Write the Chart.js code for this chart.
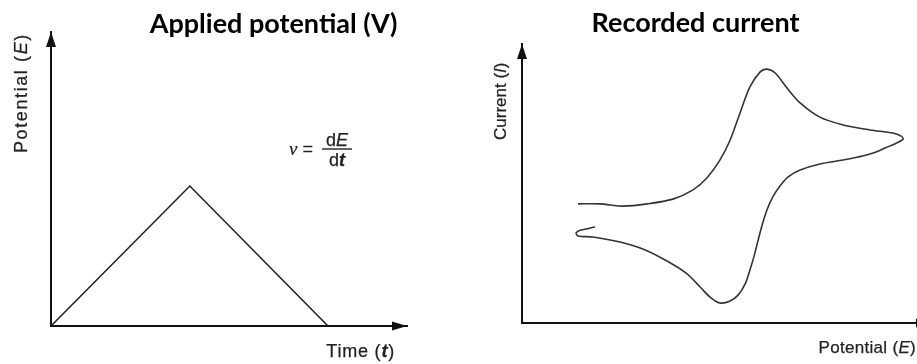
<!DOCTYPE html>
<html>
<head>
<meta charset="utf-8">
<script src="https://cdn.jsdelivr.net/npm/chart.js@4.4.1/dist/chart.umd.min.js"></script>
<style>
  html, body { margin: 0; padding: 0; background: #fff; }
  #wrap { position: relative; width: 917px; height: 364px; overflow: hidden; }
  .box { position: absolute; top: 0; height: 364px; }
</style>
</head>
<body>
<div id="wrap">
  <div class="box" style="left:0;width:460px"><canvas id="applied"></canvas></div>
  <div class="box" style="left:460px;width:457px"><canvas id="recorded"></canvas></div>
</div>
<script>
// left: triangular potential sweep (arbitrary units 0-10)
const sweepTime = [0, 3.9, 7.78];
const sweepPotential = [0, 4.76, 0];

// right: cyclic voltammogram (arbitrary units 0-100), forward scan then reverse
const forwardE = [14.2, 19.8, 25.6, 31.7, 38.2, 43.3, 46.8, 50.1, 52.7, 55.2, 57.7, 60.3, 62.0, 64.1, 67.1, 70.4, 75.4, 81.3, 88.1, 93.9, 96.0, 96.5];
const forwardI = [42.7, 42.7, 41.9, 42.7, 44.4, 47.7, 52.0, 58.4, 65.6, 75.3, 84.6, 90.0, 91.0, 89.6, 84.2, 78.9, 73.8, 71.0, 69.2, 68.1, 67.0, 66.0];
const reverseE = [95.4, 91.9, 88.9, 85.1, 81.3, 75.4, 70.4, 67.3, 65.3, 63.5, 62.0, 60.8, 59.8, 58.7, 57.7, 56.5, 54.7, 52.7, 50.1, 47.6, 45.1, 41.8, 36.7, 30.6, 24.8, 18.0, 14.2, 13.7, 14.9, 18.5];
const reverseI = [64.9, 62.7, 60.9, 59.5, 58.4, 57.0, 54.8, 52.3, 49.1, 45.2, 40.5, 35.1, 29.8, 23.7, 19.0, 14.0, 10.0, 7.9, 7.2, 9.3, 12.9, 17.6, 22.2, 26.5, 29.0, 30.8, 31.2, 32.3, 33.3, 34.4];

const sans = '"Liberation Sans", Arial, sans-serif';

function drawSegs(ctx, t) {
  ctx.save();
  ctx.translate(t.x, t.y);
  if (t.rot) ctx.rotate(t.rot * Math.PI / 180);
  ctx.letterSpacing = t.spacing || '0px';
  ctx.textBaseline = 'alphabetic';
  ctx.textAlign = 'left';
  let total = 0;
  t.segs.forEach(s => { ctx.font = s[1]; total += ctx.measureText(s[0]).width; });
  let x = t.align === 'right' ? -total : t.align === 'center' ? -total / 2 : 0;
  t.segs.forEach(s => {
    ctx.font = s[1];
    ctx.fillStyle = t.color || '#222';
    ctx.fillText(s[0], x, 0);
    if (t.heavy) {
      ctx.strokeStyle = t.color || '#222';
      ctx.lineWidth = t.heavy;
      ctx.strokeText(s[0], x, 0);
    }
    x += ctx.measureText(s[0]).width;
  });
  ctx.restore();
}

const decor = {
  id: 'decor',
  afterDraw(chart, args, opts) {
    const ctx = chart.ctx, a = chart.chartArea;
    ctx.save();
    ctx.fillStyle = '#111';
    // arrow on y axis
    ctx.beginPath();
    ctx.moveTo(a.left, a.top);
    ctx.lineTo(a.left - 5, a.top + 15);
    ctx.lineTo(a.left + 5, a.top + 15);
    ctx.closePath();
    ctx.fill();
    // arrow on x axis
    const tip = a.right + (opts.xTip || 0);
    ctx.beginPath();
    ctx.moveTo(tip, a.bottom);
    ctx.lineTo(tip - 15, a.bottom - 4.5);
    ctx.lineTo(tip - 15, a.bottom + 4.5);
    ctx.closePath();
    ctx.fill();
    (opts.texts || []).forEach(t => drawSegs(ctx, t));
    if (opts.fraction) {
      const f = opts.fraction;
      ctx.strokeStyle = '#222';
      ctx.lineWidth = 1.4;
      ctx.beginPath();
      ctx.moveTo(f.x - 15, f.y);
      ctx.lineTo(f.x + 15, f.y);
      ctx.stroke();
    }
    ctx.restore();
  }
};

const axisBase = {
  type: 'linear',
  ticks: { display: false },
  grid: { display: false, drawTicks: false },
  border: { display: true, color: '#111', width: 2 }
};

new Chart(document.getElementById('applied'), {
  type: 'scatter',
  data: {
    datasets: [{
      data: sweepTime.map((t, i) => ({ x: t, y: sweepPotential[i] })),
      showLine: true,
      borderColor: '#222',
      borderWidth: 1.6,
      pointRadius: 0,
      tension: 0,
      clip: false
    }]
  },
  options: {
    responsive: true,
    maintainAspectRatio: false,
    animation: false,
    layout: { padding: { left: 51, right: 53, top: 32, bottom: 38 } },
    scales: {
      x: { ...axisBase, min: 0, max: 10 },
      y: { ...axisBase, min: 0, max: 10 }
    },
    plugins: {
      legend: { display: false },
      tooltip: { enabled: false },
      decor: {
        texts: [
          { segs: [['Applied potential (V)', 'bold 27px Lato']], x: 273.5, y: 33, align: 'center', color: '#000' },
          { segs: [['Potential (', '18px ' + sans], ['E', 'italic 18px ' + sans], [')', '18px ' + sans]], x: 27, y: 153, rot: -90, spacing: '1.6px', heavy: 0.25 },
          { segs: [['Time (', '18px ' + sans], ['t', 'italic bold 18px ' + sans], [')', '18px ' + sans]], x: 395, y: 357, align: 'right', spacing: '0.8px', heavy: 0.25 },
          { segs: [['ν', 'italic 19px "Liberation Serif", serif'], [' = ', '18px ' + sans]], x: 289, y: 155, heavy: 0.2 },
          { segs: [['d', '18px ' + sans], ['E', 'italic 18px ' + sans]], x: 337, y: 146, align: 'center', heavy: 0.25 },
          { segs: [['d', '18px ' + sans], ['t', 'italic bold 18px ' + sans]], x: 337, y: 166, align: 'center', heavy: 0.25 }
        ],
        fraction: { x: 337, y: 149 }
      }
    }
  },
  plugins: [decor]
});

new Chart(document.getElementById('recorded'), {
  type: 'scatter',
  data: {
    datasets: [{
      data: forwardE.concat(reverseE).map((e, i) => ({ x: e, y: forwardI.concat(reverseI)[i] })),
      showLine: true,
      borderColor: '#333',
      borderWidth: 1.6,
      pointRadius: 0,
      tension: 0.3,
      clip: false
    }]
  },
  options: {
    responsive: true,
    maintainAspectRatio: false,
    animation: false,
    layout: { padding: { left: 62, right: 0, top: 44, bottom: 41 } },
    scales: {
      x: { ...axisBase, min: 0, max: 100 },
      y: { ...axisBase, min: 0, max: 100 }
    },
    plugins: {
      legend: { display: false },
      tooltip: { enabled: false },
      decor: {
        xTip: 14,
        texts: [
          { segs: [['Recorded current', 'bold 27px Lato']], x: 235.5, y: 32, align: 'center', color: '#000' },
          { segs: [['Current (', '17px ' + sans], ['I', 'italic 17px ' + sans], [')', '17px ' + sans]], x: 46, y: 140, rot: -90, heavy: 0.25 },
          { segs: [['Potential (', '17px ' + sans], ['E', 'italic 17px ' + sans], [')', '17px ' + sans]], x: 456, y: 353, align: 'right', spacing: '0.3px', heavy: 0.25 }
        ]
      }
    }
  },
  plugins: [decor]
});
</script>
</body>
</html>
